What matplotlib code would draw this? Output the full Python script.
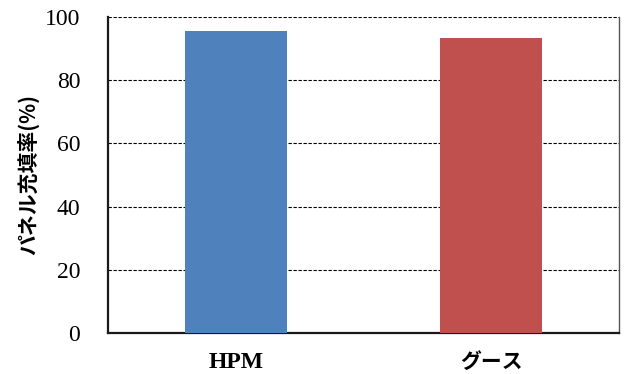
import matplotlib.pyplot as plt
import numpy as np

# Panel filling rate by method
categories = ['HPM', 'グース']
fill_rate = [95.6, 93.3]
bar_colors = ['#4F81BD', '#C0504D']
yticks = [0, 20, 40, 60, 80, 100]

plt.rcParams['font.family'] = ['Liberation Serif', 'Noto Sans CJK JP']

fig = plt.figure(figsize=(6.24, 3.74), dpi=100)
ax = fig.add_axes([0.173, 0.1096, 0.819, 0.845])

x = np.arange(len(categories))
ax.bar(x, fill_rate, width=0.4, color=bar_colors, zorder=3)

ax.set_xlim(-0.5, 1.5)
ax.set_ylim(0, 100)
ax.set_yticks(yticks)
ax.set_yticklabels([str(v) for v in yticks], fontsize=17)
ax.set_xticks(x)
labels = ax.set_xticklabels(categories, fontsize=17, fontweight='bold',
                            family=['Liberation Serif', 'Noto Sans CJK JP'])
labels[1].set_fontsize(15)
ax.tick_params(axis='both', length=0)
ax.tick_params(axis='y', pad=20)
ax.tick_params(axis='x', pad=14)

ax.yaxis.grid(True, linestyle=(0, (3, 1.5)), color='black', linewidth=0.8, zorder=0)
ax.set_ylabel('パネル充填率(%)', fontsize=15, fontweight='bold',
              family=['Noto Sans CJK JP'])
ax.yaxis.set_label_coords(-0.135, 0.5)

for side in ['left', 'bottom']:
    ax.spines[side].set_linewidth(1.6)
    ax.spines[side].set_color('#1a1a1a')
ax.spines['top'].set_visible(False)
ax.spines['right'].set_color('#555555')
ax.spines['right'].set_linewidth(1.0)

fig.savefig('out.png', dpi=100)
